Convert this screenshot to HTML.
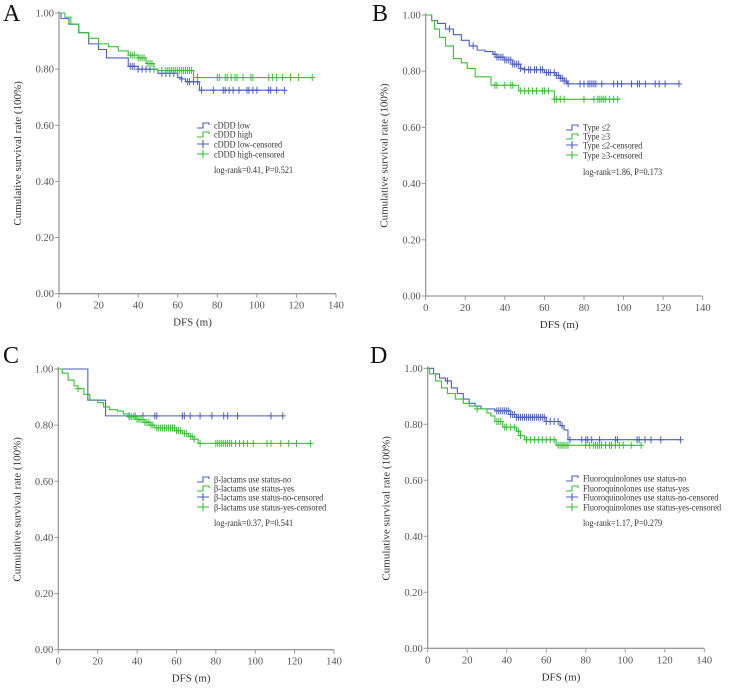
<!DOCTYPE html>
<html><head><meta charset="utf-8"><style>
html,body{margin:0;padding:0;background:#fff;width:730px;height:688px;overflow:hidden}
svg text{font-family:"Liberation Serif",serif}
</style></head><body>
<svg id="fig" width="730" height="688" xmlns="http://www.w3.org/2000/svg"></svg>
<script>
const xTicks=[0,20,40,60,80,100,120,140];
const yTicks=[0,0.2,0.4,0.6,0.8,1.0];
const yTickLabels=["0.00","0.20","0.40","0.60","0.80","1.00"];
// Panel A
const aLowT=[0,1,5,10,15,20,24,35,40,50,60,62,64,71];
const aLowS=[1,0.98,0.96,0.93,0.89,0.87,0.84,0.81,0.80,0.785,0.77,0.765,0.755,0.725];
const aLowEnd=114;
const aHighT=[0,3,6,10,15,20,25,30,35,40,44,48,50,68];
const aHighS=[1,0.985,0.96,0.93,0.91,0.89,0.88,0.865,0.85,0.84,0.82,0.80,0.795,0.77];
const aHighEnd=128;
const aLowC=[36,37,38,40,42,44,46,48,52,54,56,58,62,65,66,68,70,72,78,83,84,86,88,91,95,96,98,100,106,107,110,114];
const aHighC=[36,37,38,40,41,42,43,45,46,47,48,52,54,55,56,57,58,59,60,61,62,63,64,65,66,67,70,80,81,84,85,87,89,90,93,97,98,106,108,110,113,117,121,128];
// Panel B
const bLowT=[0,3,6,10,14,18,22,26,30,34,36,40,44,48,50,60,66,68,70,71.5];
const bLowS=[1,0.98,0.97,0.95,0.93,0.91,0.89,0.875,0.87,0.86,0.85,0.84,0.825,0.81,0.805,0.795,0.785,0.775,0.765,0.755];
const bLowEnd=128;
const bHighT=[0,3,4.5,7,10,14,18,21,25,33,47,65];
const bHighS=[1,0.98,0.95,0.92,0.89,0.845,0.83,0.81,0.78,0.75,0.73,0.70];
const bHighEnd=98;
const bLowC=[12,24,35,36,37,38,39,40,41,42,43,44,45,46,47,48,50,52,53,55,56,58,59,61,62,63,65,66,67,68,69,70,71,72,78,80,82,83,84,85,86,89,95,97,99,104,107,108,111,116,118,121,128];
const bHighC=[35,36,40,43,44,48,50,52,54,56,59,60,62,65,66,68,70,80,85,87,88,89,90,91,93,95,97];
// Panel C
const cNoT=[0,15,24];
const cNoS=[1,0.889,0.833];
const cNoEnd=114;
const cYesT=[0,2,5,8,10,13,16,20,23,26,30,33,36,40,44,47,49,60,63,66,69,71];
const cYesS=[1,0.985,0.96,0.94,0.93,0.91,0.89,0.88,0.865,0.855,0.85,0.84,0.83,0.82,0.81,0.80,0.79,0.78,0.77,0.76,0.75,0.735];
const cYesEnd=128;
const cNoC=[36,39,43,49,50,63,64,67,72,78,84,86,91,108,114];
const cYesC=[10,36,37,38,39,40,41,42,43,44,45,46,47,48,50,51,52,53,54,55,56,57,58,59,60,61,62,64,65,67,68,69,72,80,81,82,83,84,85,86,87,88,90,92,94,96,99,106,108,113,117,121,128];
// Panel D
const dNoT=[0,3,6,9,12,15,18,21,24,27,34,42,45,60,67,69,71];
const dNoS=[1,0.98,0.965,0.955,0.93,0.91,0.89,0.875,0.865,0.855,0.848,0.835,0.825,0.81,0.795,0.78,0.745];
const dNoEnd=128;
const dYesT=[0,1,4,7,10,14,18,21,25,30,32,34,38,45,47,49,65];
const dYesS=[1,0.98,0.955,0.93,0.91,0.89,0.875,0.865,0.855,0.84,0.83,0.81,0.79,0.775,0.76,0.745,0.725];
const dYesEnd=108;
const dNoC=[10,35,36,37,38,39,40,41,42,43,44,45,46,47,48,49,50,51,52,53,54,55,56,57,58,59,60,62,64,66,68,72,78,80,81,83,87,95,96,106,107,110,113,118,128];
const dYesC=[25,35,36,37,39,40,42,44,46,47,50,52,54,56,58,60,62,64,66,67,68,69,70,71,80,82,84,85,86,87,88,90,92,93,95,97,99,103,108];

const BLUE="#4a5ec4", GREEN="#35c035", AX="#9a9a9a", TX="#555";
const NS="http://www.w3.org/2000/svg";
const svg=document.getElementById('fig');
function mk(tag,attrs,parent,txt){const e=document.createElementNS(NS,tag);for(const k in attrs)e.setAttribute(k,attrs[k]);if(txt!==undefined)e.textContent=txt;(parent||svg).appendChild(e);return e;}
function squeeze(t,f){const w=t.getComputedTextLength();if(w>0){t.setAttribute('textLength',(w*f).toFixed(1));t.setAttribute('lengthAdjust','spacingAndGlyphs');}}
function sAt(T,S,t){let v=S[0];for(let i=0;i<T.length;i++){if(T[i]<=t)v=S[i];}return v;}

function panel(P){
  const g=mk('g',{});
  
  
  const X=t=>P.x0+t*(P.x1-P.x0)/140, Y=s=>P.y0+(1-s)*(P.y1-P.y0);
  const lab=mk('text',{x:P.lx,y:P.ly,'font-size':24,fill:'#111'},g,P.letter);
  
  
  const ax=mk('g',{},g);
  
  
  mk('line',{x1:P.x0,y1:Y(1)-2,x2:P.x0,y2:Y(0),stroke:AX,'stroke-width':1.3},ax);
  mk('line',{x1:P.x0,y1:Y(0),x2:P.x1,y2:Y(0),stroke:AX,'stroke-width':1.3},ax);
  yTicks.forEach((v,i)=>{
    mk('line',{x1:P.x0-4,y1:Y(v),x2:P.x0,y2:Y(v),stroke:AX,'stroke-width':1},ax);
    const t=mk('text',{x:P.x0-5,y:Y(v)+3.5,'font-size':10.5,fill:TX,'text-anchor':'end'},ax,yTickLabels[i]);
    
    
  });
  xTicks.forEach(v=>{
    mk('line',{x1:X(v),y1:Y(0),x2:X(v),y2:Y(0)+4,stroke:AX,'stroke-width':1},ax);
    const t=mk('text',{x:X(v),y:Y(0)+15,'font-size':10.5,fill:TX,'text-anchor':'middle'},ax,String(v));
    
    
  });
  const xt=mk('text',{x:(P.x0+P.x1)/2-5,y:Y(0)+32,'font-size':11,fill:'#333','text-anchor':'middle'},g,'DFS (m)');
  
  
  const ymid=(Y(0)+Y(1))/2;
  const yt=mk('text',{x:P.x0-38,y:ymid,'font-size':11,fill:'#333','text-anchor':'middle',transform:`rotate(-90 ${P.x0-38} ${ymid})`},g,'Cumulative survival rate (100%)');
  
  
  P.series.forEach(s=>{
    let d=`M${X(s.T[0])},${Y(s.S[0])}`;
    for(let i=1;i<s.T.length;i++){d+=` H${X(s.T[i])} V${Y(s.S[i])}`;}
    d+=` H${X(s.end)}`;
    const p=mk('path',{d:d,fill:'none',stroke:s.color,'stroke-width':1.1},g);
    
    
    const cg=mk('g',{stroke:s.color,'stroke-width':1},g);
    
    
    s.C.forEach(c=>{const cx=X(c),cy=Y(sAt(s.T,s.S,c));
      mk('path',{d:`M${cx},${cy-3.5} V${cy+3.5} M${cx-3},${cy} H${cx+3}`},cg);});
  });
  const lg=mk('g',{},g);
  
  
  const cols=[P.series[0].color,P.series[1].color,P.series[0].color,P.series[1].color];
  P.legend.forEach((txt,i)=>{
    const y=P.legY[i];
    const e=mk('g',{},lg);
    
    
    if(i<2) mk('path',{d:`M${P.legX},${y+3} H${P.legX+6} V${y-2} H${P.legX+12} V${y}`,fill:'none',stroke:cols[i],'stroke-width':1.1},e);
    else mk('path',{d:`M${P.legX},${y} H${P.legX+12} M${P.legX+6},${y-4} V${y+4}`,fill:'none',stroke:cols[i],'stroke-width':1.1},e);
    const t=mk('text',{x:P.legX+17,y:y+3.5,'font-size':9.5,fill:'#333'},e,txt);
    squeeze(t,0.87);
  });
  const lr=mk('text',{x:P.legX+17,y:P.lrY,'font-size':9.5,fill:'#333'},g,P.logrank);
  
  
  squeeze(lr,0.87);
}

panel({name:'panel-a',letter:'A',lx:3,ly:21,x0:59,x1:336,y0:13,y1:293.7,
  series:[{id:'cddd-low',T:aLowT,S:aLowS,end:aLowEnd,C:aLowC,color:BLUE},{id:'cddd-high',T:aHighT,S:aHighS,end:aHighEnd,C:aHighC,color:GREEN}],
  legend:['cDDD low','cDDD high','cDDD low-censored','cDDD high-censored'],legX:197,legY:[125,134,144,154],lrY:173,logrank:'log-rank=0.41, P=0.521'});
panel({name:'panel-b',letter:'B',lx:372,ly:21,x0:425.7,x1:702.7,y0:15,y1:296,
  series:[{id:'type-le2',T:bLowT,S:bLowS,end:bLowEnd,C:bLowC,color:BLUE},{id:'type-ge3',T:bHighT,S:bHighS,end:bHighEnd,C:bHighC,color:GREEN}],
  legend:['Type ≤2','Type ≥3','Type ≤2-censored','Type ≥3-censored'],legX:566,legY:[127,136,145,155],lrY:175,logrank:'log-rank=1.86, P=0.173'});
panel({name:'panel-c',letter:'C',lx:3,ly:363,x0:58.3,x1:334,y0:369,y1:649.7,
  series:[{id:'blactam-no',T:cNoT,S:cNoS,end:cNoEnd,C:cNoC,color:BLUE},{id:'blactam-yes',T:cYesT,S:cYesS,end:cYesEnd,C:cYesC,color:GREEN}],
  legend:['β-lactams use status-no','β-lactams use status-yes','β-lactams use status-no-censored','β-lactams use status-yes-censored'],legX:197,legY:[479,488,497,507],lrY:526,logrank:'log-rank=0.37, P=0.541'});
panel({name:'panel-d',letter:'D',lx:370,ly:363,x0:427.7,x1:704.3,y0:368.3,y1:648.3,
  series:[{id:'fq-no',T:dNoT,S:dNoS,end:dNoEnd,C:dNoC,color:BLUE},{id:'fq-yes',T:dYesT,S:dYesS,end:dYesEnd,C:dYesC,color:GREEN}],
  legend:['Fluoroquinolones use status-no','Fluoroquinolones use status-yes','Fluoroquinolones use status-no-censored','Fluoroquinolones use status-yes-censored'],legX:566,legY:[478,488,497,507],lrY:526,logrank:'log-rank=1.17, P=0.279'});
</script>
</body></html>
